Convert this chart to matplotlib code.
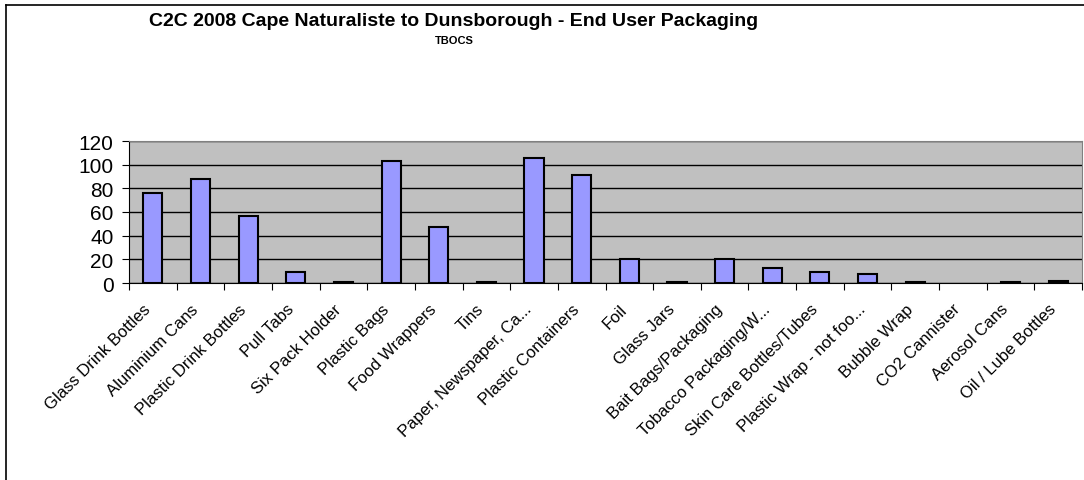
import matplotlib
matplotlib.use("Agg")
import matplotlib.pyplot as plt
import matplotlib.transforms as mtransforms
from matplotlib.lines import Line2D

plt.rcParams['font.family'] = ['Liberation Sans', 'DejaVu Sans']

categories = ["Glass Drink Bottles", "Aluminium Cans", "Plastic Drink Bottles", "Pull Tabs",
              "Six Pack Holder", "Plastic Bags", "Food Wrappers", "Tins",
              "Paper, Newspaper, Ca...", "Plastic Containers", "Foil", "Glass Jars",
              "Bait Bags/Packaging", "Tobacco Packaging/W...", "Skin Care Bottles/Tubes",
              "Plastic Wrap - not foo...", "Bubble Wrap", "CO2 Cannister", "Aerosol Cans",
              "Oil / Lube Bottles"]
values = [76, 88, 57, 9, 1, 103, 47, 1, 106, 91, 20, 1, 20, 13, 9, 8, 1, 0, 1, 2]
yticks = [0, 20, 40, 60, 80, 100, 120]

W, H = 1084, 481
fig = plt.figure(figsize=(W/100, H/100), dpi=100)
ax = fig.add_axes([129/W, 1-284/H, (1082-129)/W, (284-142)/H])
ax.set_facecolor('#C0C0C0')

x = list(range(len(categories)))
lws = [1.5 if v > 0 else 0 for v in values]
ax.bar(x, values, width=0.4, color='#9999FF', edgecolor='black', linewidth=lws, zorder=3)

ax.set_xlim(-0.5, len(categories)-0.5)
ax.set_ylim(0, 120)
ax.set_yticks(yticks)
ax.set_yticklabels([str(t) for t in yticks], fontsize=15)
ax.yaxis.grid(True, color='black', linewidth=1)
ax.set_axisbelow(True)

ax.set_xticks([i - 0.5 for i in range(len(categories)+1)])
ax.set_xticklabels([])
ax.set_xticks(x, minor=True)
ax.set_xticklabels(categories, minor=True, rotation=45, ha='right',
                   rotation_mode='anchor', fontsize=12)
ax.tick_params(axis='x', which='minor', length=0, pad=13)
ax.tick_params(axis='x', which='major', length=5, direction='out', color='black')
ax.tick_params(axis='y', length=5, direction='out', pad=6)

offset = mtransforms.ScaledTranslation(-10/100, 0, fig.dpi_scale_trans)
for lbl in ax.get_xticklabels(minor=True):
    lbl.set_transform(lbl.get_transform() + offset)

for s in ['top', 'right']:
    ax.spines[s].set_color('#808080')
for s in ['left', 'bottom']:
    ax.spines[s].set_color('black')

fig.text(454/W, 1-22/H, "C2C 2008 Cape Naturaliste to Dunsborough - End User Packaging",
         ha='center', va='center', fontsize=14, fontweight='bold')
fig.text(454/W, 1-41/H, "TBOCS", ha='center', va='center', fontsize=8, fontweight='bold')

fig.add_artist(Line2D([6/W, 6/W], [0, 1-6/H], color='black', linewidth=1.2, transform=fig.transFigure))
fig.add_artist(Line2D([6/W, 1], [1-6/H, 1-6/H], color='black', linewidth=1.2, transform=fig.transFigure))

fig.savefig('out.png', dpi=100, facecolor='white')
